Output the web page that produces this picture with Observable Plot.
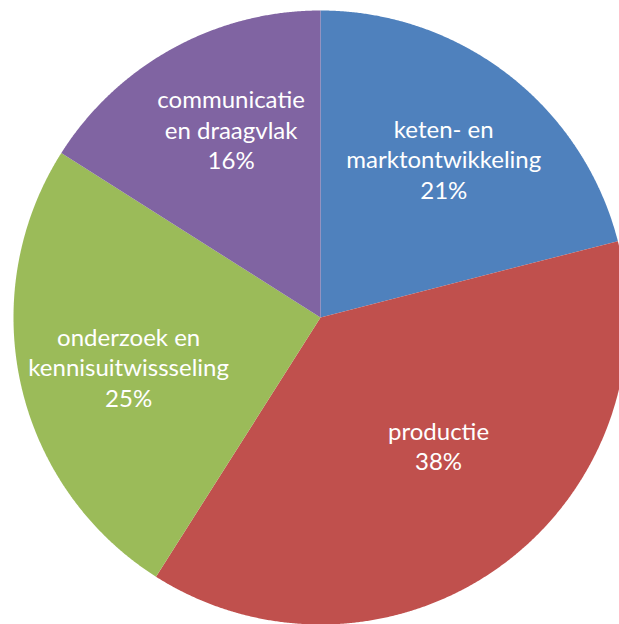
<!DOCTYPE html>
<html>
<head>
<meta charset="utf-8">
<script src="https://cdn.jsdelivr.net/npm/d3@7"></script>
<script src="https://cdn.jsdelivr.net/npm/@observablehq/plot@0.6"></script>
<style>
  html, body { margin: 0; padding: 0; background: #fff; overflow: hidden; }
  #chart svg { display: block; overflow: hidden; }
</style>
</head>
<body>
<div id="chart"></div>
<script>
const categories = ["keten- en marktontwikkeling", "productie", "onderzoek en kennisuitwissseling", "communicatie en draagvlak"];
const labelLines = [["keten- en", "marktontwikkeling"], ["productie"], ["onderzoek en", "kennisuitwissseling"], ["communicatie", "en draagvlak"]];
const values = [21, 38, 25, 16];
const colors = ["#4F81BD", "#C0504D", "#9BBB59", "#8064A2"];

const W = 619, H = 624;
const cx = 320, cy = 317, R = 307;

const total = d3.sum(values);
const arcs = d3.pie().sort(null).value(d => d)(values);

// Slice outlines in unit coordinates (y up)
const pts = [];
arcs.forEach((a, i) => {
  pts.push({cat: categories[i], x: 0, y: 0});
  const n = Math.max(2, Math.ceil((a.endAngle - a.startAngle) / (Math.PI / 720)));
  for (let k = 0; k <= n; k++) {
    const t = a.startAngle + (a.endAngle - a.startAngle) * k / n;
    pts.push({cat: categories[i], x: Math.sin(t), y: Math.cos(t)});
  }
});

// Label positions: along mid-angle
const nudge = {0: {r: 0.655, da: 0}, 1: {r: 0.567, da: -0.117}, 2: {r: 0.645, da: -0.03}, 3: {r: 0.68, da: 0.06}};
const labels = arcs.map((a, i) => {
  const m = (a.startAngle + a.endAngle) / 2 + nudge[i].da;
  const r = nudge[i].r;
  const pct = Math.round(values[i] / total * 100) + "%";
  return {x: r * Math.sin(m), y: r * Math.cos(m), text: [...labelLines[i], pct].join("\n")};
});

const chart = Plot.plot({
  width: W,
  height: H,
  margin: 0,
  x: {domain: [-1, 1], range: [cx - R, cx + R], axis: null},
  y: {domain: [-1, 1], range: [cy + R, cy - R], axis: null},
  color: {domain: categories, range: colors},
  style: {background: "#fff", overflow: "hidden"},
  marks: [
    Plot.line(pts, {x: "x", y: "y", z: "cat", fill: "cat", stroke: "none", curve: "linear-closed"}),
    Plot.text(labels, {x: "x", y: "y", text: "text", fill: "white", fontSize: 24, fontFamily: "Lato", lineHeight: 1.27})
  ]
});
document.getElementById("chart").appendChild(chart);
</script>
</body>
</html>
